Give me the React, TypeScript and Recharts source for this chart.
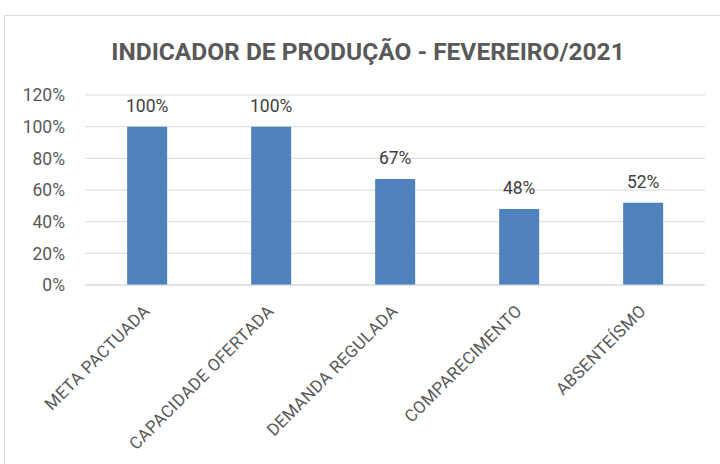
import { Bar, BarChart, CartesianGrid, LabelList, XAxis, YAxis } from 'recharts';

const categories = ['META PACTUADA', 'CAPACIDADE OFERTADA', 'DEMANDA REGULADA', 'COMPARECIMENTO', 'ABSENTEÍSMO'];
const values = [100, 100, 67, 48, 52];
const yTicks = [0, 20, 40, 60, 80, 100, 120];

const data = categories.map((name, i) => ({ name, value: values[i] }));

const FONT = 'Roboto, "Open Sans", sans-serif';
const TEXT = '#595959';

const CategoryTick = ({ x, y, payload }: any) => {
  const ax = x + 4;
  const ay = y + 19;
  return (
    <text
      x={ax}
      y={ay}
      textAnchor="end"
      fill={TEXT}
      fontSize={17}
      letterSpacing={0.4}
      fontFamily={FONT}
      transform={`rotate(-45, ${ax}, ${ay})`}
    >
      {payload.value}
    </text>
  );
};

export default function App() {
  return (
    <div style={{ position: 'absolute', left: 0, top: 0, width: 720, height: 464, background: '#fff' }}>
      <div
        style={{
          position: 'absolute',
          left: 4,
          top: 15,
          width: 740,
          height: 460,
          border: '1px solid #d9d9d9',
          boxSizing: 'border-box',
        }}
      />
      <div
        style={{
          position: 'absolute',
          left: 0,
          top: 37,
          width: 736,
          textAlign: 'center',
          fontFamily: FONT,
          fontWeight: 'bold',
          fontSize: 24.5,
          color: TEXT,
        }}
      >
        INDICADOR DE PRODUÇÃO - FEVEREIRO/2021
      </div>
      <div style={{ position: 'absolute', left: 0, top: 0 }}>
        <BarChart
          width={720}
          height={464}
          data={data}
          margin={{ top: 95, right: 15, left: 0, bottom: 0 }}
          barCategoryGap="34%"
        >
          <CartesianGrid vertical={false} stroke="#d9d9d9" />
          <XAxis
            dataKey="name"
            interval={0}
            height={179}
            tickLine={false}
            axisLine={{ stroke: '#d9d9d9' }}
            tick={<CategoryTick />}
          />
          <YAxis
            width={85}
            domain={[0, 120]}
            ticks={yTicks}
            tickFormatter={(v: number) => `${v}%`}
            axisLine={false}
            tickLine={false}
            tickSize={0}
            tickMargin={20}
            tick={{ fill: TEXT, fontSize: 17.5, fontFamily: FONT }}
          />
          <Bar dataKey="value" fill="#4f81bd" isAnimationActive={false}>
            <LabelList
              dataKey="value"
              position="top"
              offset={15}
              formatter={(v: any) => `${v}%`}
              style={{ fill: '#404040', fontSize: 17.5, fontFamily: FONT }}
            />
          </Bar>
        </BarChart>
      </div>
    </div>
  );
}
